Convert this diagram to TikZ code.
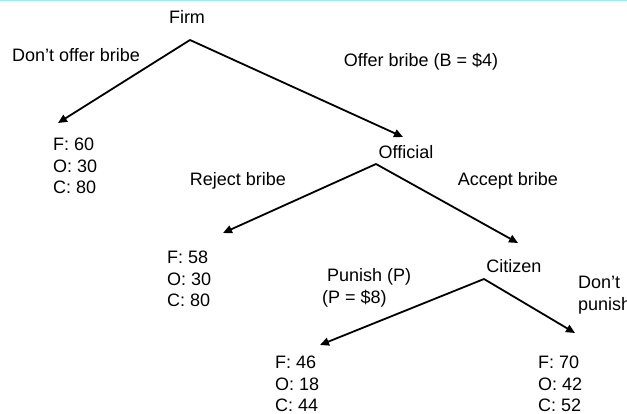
\documentclass[tikz,border=0pt]{standalone}
\usepackage{fontspec}
\setmainfont{Liberation Sans}
\usetikzlibrary{arrows.meta}
\definecolor{rulecyan}{RGB}{153,238,245}
\tikzset{
  move/.style={line width=1.8pt, -{Triangle[length=9pt,width=8pt]}},
  lbl/.style={font=\fontsize{18}{21.5}\selectfont, inner sep=0pt},
  pay/.style={lbl, align=left, anchor=west}
}
\begin{document}
\begin{tikzpicture}[x=1pt,y=-1pt]
	\useasboundingbox (0,0) rectangle (627,414);
	\draw [rulecyan, line width=1.5pt] (0,0.75) -- (627,0.75);
	% players
	\node [lbl] (firm) at (187,17) {Firm};
	\node [lbl] (official) at (406,152) {Official};
	\node [lbl] (citizen) at (514,266) {Citizen};
	\coordinate (firm-top) at (190,40);
	\coordinate (official-top) at (376,164);
	\coordinate (citizen-top) at (484,279);
	% payoffs
	\node [pay] (p-nooffer) at (53,166) {F: 60\\O: 30\\C: 80};
	\node [pay] (p-reject) at (167,279) {F: 58\\O: 30\\C: 80};
	\node [pay] (p-punish) at (275,384) {F: 46\\O: 18\\C: 44};
	\node [pay] (p-nopunish) at (538,384) {F: 70\\O: 42\\C: 52};
	\coordinate (nooffer-end) at (58,123);
	\coordinate (reject-end) at (223,233);
	\coordinate (punish-end) at (320,345);
	\coordinate (nopunish-end) at (575,333);
	\coordinate (official-end) at (403,137);
	\coordinate (citizen-end) at (518,243);
	% moves
	\draw [move] (firm-top) -- (nooffer-end);
	\draw [move] (firm-top) -- (official-end);
	\draw [move] (official-top) -- (reject-end);
	\draw [move] (official-top) -- (citizen-end);
	\draw [move] (citizen-top) -- (punish-end);
	\draw [move] (citizen-top) -- (nopunish-end);
	% move labels
	\node [lbl] (l-nooffer) at (76,55) {Don’t offer bribe};
	\node [lbl] (l-offer) at (421,62) {Offer bribe (B = \$4)};
	\node [lbl] (l-reject) at (238,181) {Reject bribe};
	\node [lbl] (l-accept) at (508,181) {Accept bribe};
	\node [pay] (l-punish) at (322,288) {\hspace{5pt}Punish (P)\\(P = \$8)};
	\node [pay] (l-nopunish) at (578,295) {Don’t\\punish};
\end{tikzpicture}
\end{document}
